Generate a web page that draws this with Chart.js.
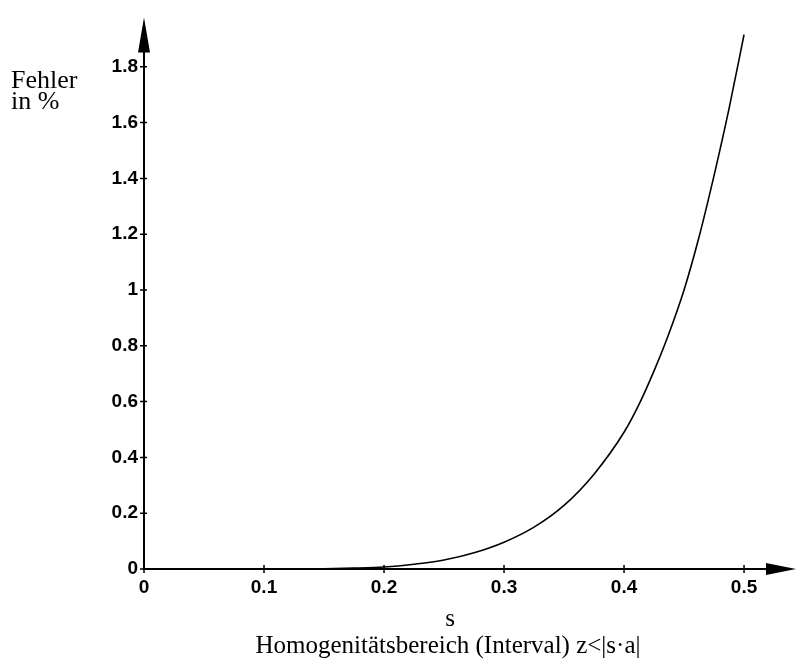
<!DOCTYPE html>
<html>
<head>
<meta charset="utf-8">
<script src="https://cdn.jsdelivr.net/npm/chart.js@4.4.1/dist/chart.umd.min.js"></script>
<style>
  html, body { margin: 0; padding: 0; background: #fff; }
  #wrap { width: 796px; height: 659px; position: relative; }
</style>
</head>
<body>
<div id="wrap"><canvas id="chart-err"></canvas></div>
<script>
// s values and relative error (%) of the homogeneous approximation
const sValues = [0, 0.05, 0.1, 0.15, 0.175, 0.2, 0.225, 0.25, 0.275, 0.3, 0.325, 0.35, 0.375, 0.4,
  0.4125, 0.425, 0.4375, 0.45, 0.4625, 0.475, 0.4875, 0.5];
const errValues = [0, 0, 0, 0.001, 0.003, 0.007, 0.017, 0.032, 0.058, 0.096, 0.15, 0.228, 0.34, 0.49,
  0.59, 0.71, 0.845, 1.0, 1.19, 1.41, 1.65, 1.915];

const xTicks = [0, 0.1, 0.2, 0.3, 0.4, 0.5];
const yTicks = [0, 0.2, 0.4, 0.6, 0.8, 1, 1.2, 1.4, 1.6, 1.8];

const yLabel = ['Fehler', 'in %'];
const xLabel = 's';
const xTitle = 'Homogenitätsbereich (Interval) z<|s·a|';

const tickFont = { family: "'Liberation Sans Narrow', 'Liberation Sans', sans-serif", size: 19, weight: 'bold' };
const serif = "'Liberation Serif', 'DejaVu Serif', serif";

// axes with arrow heads and ticks crossing the axis line
const arrowAxes = {
  id: 'arrowAxes',
  afterDatasetsDraw(chart) {
    const { ctx, chartArea: a, scales: { x, y } } = chart;
    const x0 = x.getPixelForValue(0);
    const y0 = y.getPixelForValue(0);
    ctx.save();
    ctx.strokeStyle = '#000';
    ctx.fillStyle = '#000';
    ctx.lineWidth = 2;
    ctx.beginPath();
    ctx.moveTo(a.left, y0); ctx.lineTo(a.right - 20, y0);
    ctx.moveTo(x0, a.bottom); ctx.lineTo(x0, a.top + 20);
    ctx.stroke();
    // arrow heads
    ctx.beginPath();
    ctx.moveTo(a.right, y0); ctx.lineTo(a.right - 30, y0 - 6); ctx.lineTo(a.right - 30, y0 + 6); ctx.closePath();
    ctx.moveTo(x0, a.top); ctx.lineTo(x0 - 6, a.top + 35); ctx.lineTo(x0 + 6, a.top + 35); ctx.closePath();
    ctx.fill();
    // tick marks
    ctx.lineWidth = 1.5;
    ctx.beginPath();
    xTicks.forEach(v => {
      const px = x.getPixelForValue(v);
      ctx.moveTo(px, y0 - 4); ctx.lineTo(px, y0 + 4);
    });
    yTicks.forEach(v => {
      const py = y.getPixelForValue(v);
      ctx.moveTo(x0 - 4, py); ctx.lineTo(x0 + 3, py);
    });
    ctx.stroke();
    ctx.restore();
  },
  afterDraw(chart) {
    const { ctx } = chart;
    ctx.save();
    ctx.fillStyle = '#000';
    ctx.textBaseline = 'alphabetic';
    ctx.font = '26px ' + serif;
    ctx.textAlign = 'left';
    ctx.fillText(yLabel[0], 11, 88);
    ctx.fillText(yLabel[1], 11, 109);
    ctx.textAlign = 'center';
    ctx.font = '25px ' + serif;
    ctx.fillText(xLabel, 450, 626);
    ctx.fillText(xTitle, 448, 653);
    ctx.restore();
  }
};

new Chart(document.getElementById('chart-err'), {
  type: 'line',
  data: {
    datasets: [{
      data: sValues.map((s, i) => ({ x: s, y: errValues[i] })),
      borderColor: '#000',
      borderWidth: 1.6,
      pointRadius: 0,
      fill: false,
      cubicInterpolationMode: 'monotone'
    }]
  },
  options: {
    responsive: true,
    maintainAspectRatio: false,
    animation: false,
    layout: { padding: { top: 12, right: 0, left: 0, bottom: 0 } },
    plugins: { legend: { display: false }, tooltip: { enabled: false } },
    scales: {
      x: {
        type: 'linear',
        min: 0,
        max: 0.5433,
        afterBuildTicks: s => { s.ticks = xTicks.map(v => ({ value: v })); },
        afterFit: s => { s.height = 90; },
        grid: { display: false, drawTicks: false },
        border: { display: false },
        ticks: { color: '#000', font: tickFont, padding: 7, maxRotation: 0, callback: v => String(v) }
      },
      y: {
        min: 0,
        max: 1.977,
        afterBuildTicks: s => { s.ticks = yTicks.map(v => ({ value: v })); },
        afterFit: s => { s.width = 144; },
        grid: { display: false, drawTicks: false },
        border: { display: false },
        ticks: { color: '#000', font: tickFont, padding: 6, callback: v => String(v) }
      }
    }
  },
  plugins: [arrowAxes]
});
</script>
</body>
</html>
